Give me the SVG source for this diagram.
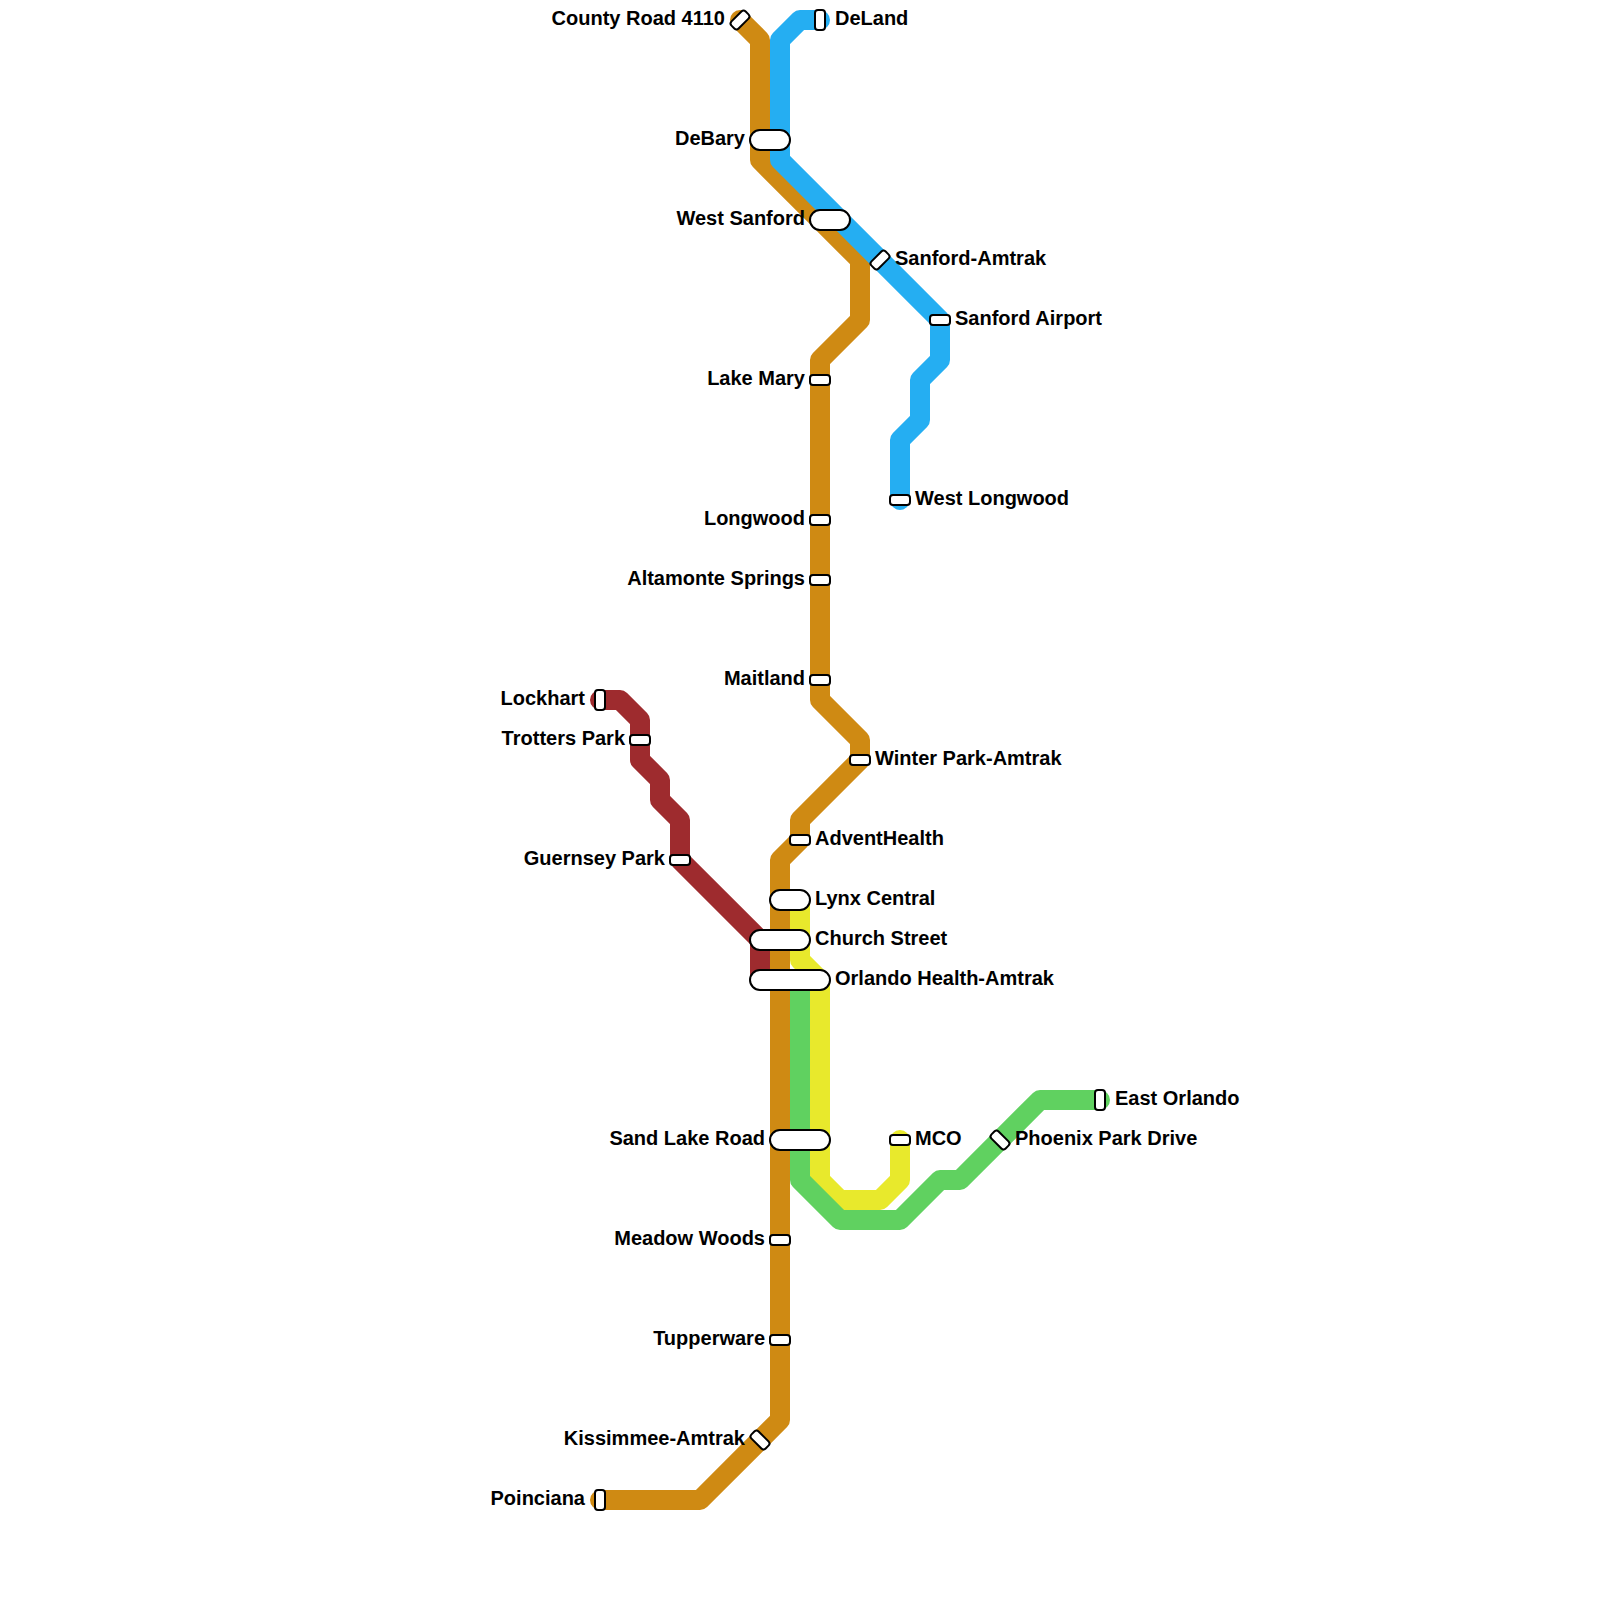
<svg xmlns="http://www.w3.org/2000/svg" width="1600" height="1600" viewBox="0 0 1600 1600">
<style>
.l{fill:none;stroke-width:20;stroke-linecap:round;stroke-linejoin:round}
.s{fill:#fff;stroke:#000;stroke-width:2}
text{font-family:"Liberation Sans",Arial,sans-serif;font-weight:700;font-size:20px;fill:#000}
.e{text-anchor:end}
</style>
<rect width="1600" height="1600" fill="#fff"/>
<g id="connectors">
<path id="line-red" class="l" stroke="#9e2b2e" d="M600 700H620L640 720V760L660 780V800L680 820V860L760 940V980"/>
<path id="line-orange" class="l" stroke="#cf8a13" d="M740 20L760 40V160L860 260V320L820 360V700L860 740V760L800 820V840L780 860V1420L700 1500H600"/>
<path id="line-blue" class="l" stroke="#25aef2" d="M820 20H800L780 40V160L940 320V360L920 380V420L900 440V500"/>
<path id="line-yellow" class="l" stroke="#e8e92c" d="M800 900V960L820 980V1180L840 1200H880L900 1180V1140"/>
<path id="line-green" class="l" stroke="#60d160" d="M800 980V1180L840 1220H900L940 1180H960L1040 1100H1100"/>
</g>
<g id="n1"><rect class="s" x="730" y="15" width="20" height="10" rx="3" transform="rotate(-45 740 20)"/><text class="e" x="725" y="25">County Road 4110</text></g>
<g id="n2"><rect class="s" x="815" y="10" width="10" height="20" rx="3"/><text x="835" y="25">DeLand</text></g>
<g id="n3"><rect class="s" x="750" y="130" width="40" height="20" rx="10"/><text class="e" x="745" y="145">DeBary</text></g>
<g id="n4"><rect class="s" x="810" y="210" width="40" height="20" rx="10"/><text class="e" x="805" y="225">West Sanford</text></g>
<g id="n5"><rect class="s" x="870" y="255" width="20" height="10" rx="3" transform="rotate(-45 880 260)"/><text x="895" y="265">Sanford-Amtrak</text></g>
<g id="n6"><rect class="s" x="930" y="315" width="20" height="10" rx="3"/><text x="955" y="325">Sanford Airport</text></g>
<g id="n7"><rect class="s" x="810" y="375" width="20" height="10" rx="3"/><text class="e" x="805" y="385">Lake Mary</text></g>
<g id="n8"><rect class="s" x="890" y="495" width="20" height="10" rx="3"/><text x="915" y="505">West Longwood</text></g>
<g id="n9"><rect class="s" x="810" y="515" width="20" height="10" rx="3"/><text class="e" x="805" y="525">Longwood</text></g>
<g id="n10"><rect class="s" x="810" y="575" width="20" height="10" rx="3"/><text class="e" x="805" y="585">Altamonte Springs</text></g>
<g id="n11"><rect class="s" x="810" y="675" width="20" height="10" rx="3"/><text class="e" x="805" y="685">Maitland</text></g>
<g id="n12"><rect class="s" x="595" y="690" width="10" height="20" rx="3"/><text class="e" x="585" y="705">Lockhart</text></g>
<g id="n13"><rect class="s" x="630" y="735" width="20" height="10" rx="3"/><text class="e" x="625" y="745">Trotters Park</text></g>
<g id="n14"><rect class="s" x="850" y="755" width="20" height="10" rx="3"/><text x="875" y="765">Winter Park-Amtrak</text></g>
<g id="n15"><rect class="s" x="790" y="835" width="20" height="10" rx="3"/><text x="815" y="845">AdventHealth</text></g>
<g id="n16"><rect class="s" x="670" y="855" width="20" height="10" rx="3"/><text class="e" x="665" y="865">Guernsey Park</text></g>
<g id="n17"><rect class="s" x="770" y="890" width="40" height="20" rx="10"/><text x="815" y="905">Lynx Central</text></g>
<g id="n18"><rect class="s" x="750" y="930" width="60" height="20" rx="10"/><text x="815" y="945">Church Street</text></g>
<g id="n19"><rect class="s" x="750" y="970" width="80" height="20" rx="10"/><text x="835" y="985">Orlando Health-Amtrak</text></g>
<g id="n20"><rect class="s" x="1095" y="1090" width="10" height="20" rx="3"/><text x="1115" y="1105">East Orlando</text></g>
<g id="n21"><rect class="s" x="770" y="1130" width="60" height="20" rx="10"/><text class="e" x="765" y="1145">Sand Lake Road</text></g>
<g id="n22"><rect class="s" x="890" y="1135" width="20" height="10" rx="3"/><text x="915" y="1145">MCO</text></g>
<g id="n23"><rect class="s" x="990" y="1135" width="20" height="10" rx="3" transform="rotate(45 1000 1140)"/><text x="1015" y="1145">Phoenix Park Drive</text></g>
<g id="n24"><rect class="s" x="770" y="1235" width="20" height="10" rx="3"/><text class="e" x="765" y="1245">Meadow Woods</text></g>
<g id="n25"><rect class="s" x="770" y="1335" width="20" height="10" rx="3"/><text class="e" x="765" y="1345">Tupperware</text></g>
<g id="n26"><rect class="s" x="750" y="1435" width="20" height="10" rx="3" transform="rotate(45 760 1440)"/><text class="e" x="745" y="1445">Kissimmee-Amtrak</text></g>
<g id="n27"><rect class="s" x="595" y="1490" width="10" height="20" rx="3"/><text class="e" x="585" y="1505">Poinciana</text></g>
</svg>
